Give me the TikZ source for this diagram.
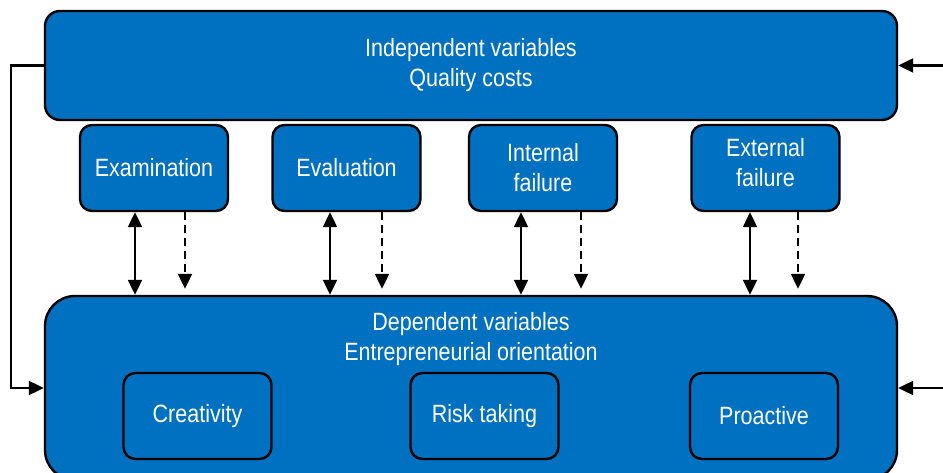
\documentclass[tikz,border=0pt]{standalone}
\usepackage{fontspec}
\setmainfont{Liberation Sans}[FakeStretch=0.86]
\usetikzlibrary{arrows.meta,calc}
\definecolor{qblue}{RGB}{0,112,192}
\tikzset{
  >={Triangle[length=15pt,width=14pt]},
  panel/.style={draw=black,line width=2.4pt,fill=qblue,text=white,
    rounded corners=#1,align=center},
  panel/.default=15pt,
  item/.style={panel=12pt,minimum width=148pt,minimum height=86pt},
  link/.style={<->,line width=2.2pt},
  hint/.style={->,line width=2.2pt,dash pattern=on 8pt off 5pt,shorten >=6pt},
  feed/.style={->,line width=2.2pt},
}

\begin{document}
\begin{tikzpicture}[x=1pt,y=-1pt,font=\fontsize{25}{30}\selectfont]
  \useasboundingbox (0,0) rectangle (943,473);
  % quality costs
  \node[panel,minimum width=852pt,minimum height=109pt] (indep) at (471,65.5)
    {Independent variables\\Quality costs};
  \node[item] (exam) at (154,168) {Examination};
  \node[item] (eval) at (346.5,168) {Evaluation};
  \node[item] (intf) at (543,168) {Internal\\failure};
  \node[item,text depth=12pt] (extf) at (765.5,168) {External\\failure};
  % entrepreneurial orientation
  \node[panel=30pt,minimum width=852pt,minimum height=184pt] (dep) at (471,388) {};
  \node[text=white,align=center,anchor=north] (deptitle) at ([yshift=-14pt]dep.north)
    {Dependent variables\\Entrepreneurial orientation};
  \node[item] (creat) at (197.5,416) {Creativity};
  \node[item] (risk) at (484.5,416) {Risk taking};
  \node[item] (proact) at (764,416) {Proactive};
  % links between the two levels
  \foreach \n/\a/\b in {exam/-19/31,eval/-16.5/35.5,intf/-22/38,extf/-15.5/32.5}{
    \draw[link] ([xshift=\a pt]\n.south) -- ([xshift=\a pt]\n.south |- dep.north);
    \draw[hint] ([xshift=\b pt]\n.south) -- ([xshift=\b pt]\n.south |- dep.north);
  }
  % feedback and outside inputs
  \draw[feed] (indep.west) -- ++(-33,0) |- (dep.west);
  \coordinate (topin) at (943,65.5);
  \coordinate (botin) at (943,388);
  \draw[feed] (topin) -- (indep.east);
  \draw[feed] (botin) -- (dep.east);
\end{tikzpicture}
\end{document}
